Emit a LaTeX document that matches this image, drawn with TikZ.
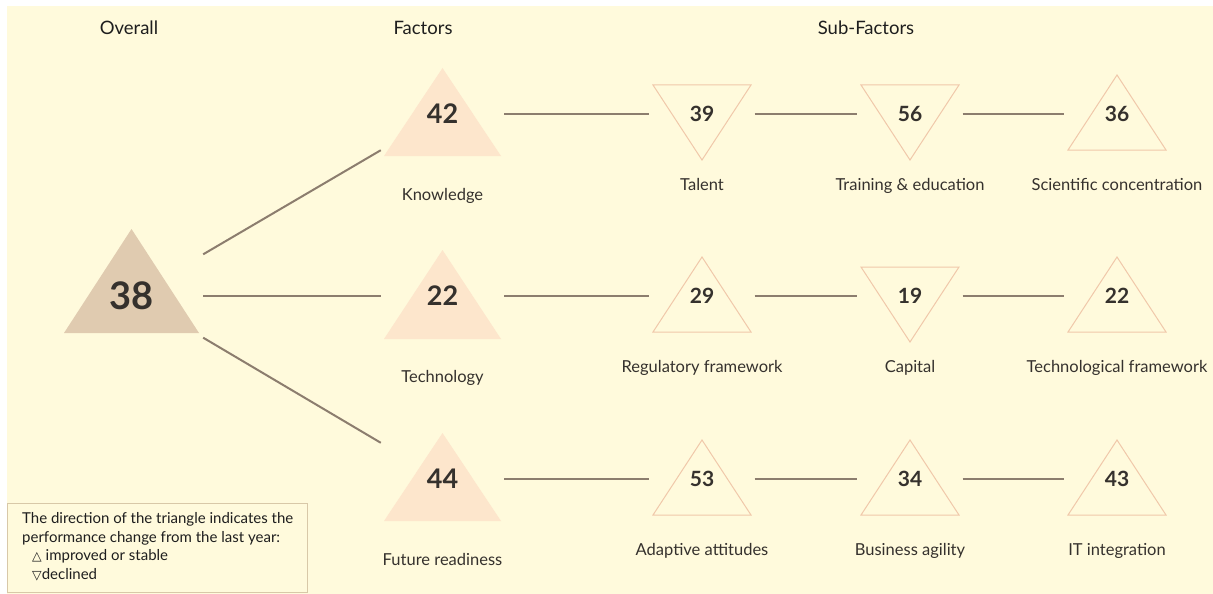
\documentclass[tikz,border=0pt]{standalone}
\usepackage{fontspec}
\setmainfont{Lato}
\newfontfamily\symfont{DejaVu Sans}
\usetikzlibrary{calc}

\definecolor{bgcream}{HTML}{FFFADC}
\definecolor{overallfill}{HTML}{E0CBB0}
\definecolor{factorfill}{HTML}{FDE6CC}
\definecolor{subedge}{HTML}{F0C8AA}
\definecolor{linkbrown}{HTML}{8C7D6E}
\definecolor{textdark}{HTML}{35312D}
\definecolor{headdark}{HTML}{1E1E1E}
\definecolor{legendborder}{HTML}{D8C8A8}

\pgfdeclarelayer{bg}
\pgfsetlayers{bg,main}

% upward triangle around a score node: node, half width, apex offset, base offset, style
\newcommand\trianup[5]{%
  \path[#5] ($(#1)+(-#2,#4)$) -- ($(#1)+(#2,#4)$) -- ($(#1)+(0,#3)$) -- cycle;}
% downward triangle: node, half width, top offset, apex offset, style
\newcommand\triandown[5]{%
  \path[#5] ($(#1)+(-#2,#3)$) -- ($(#1)+(#2,#3)$) -- ($(#1)+(0,#4)$) -- cycle;}

\begin{document}
\begin{tikzpicture}[x=1pt,y=-1pt,
  conn/.style={draw=linkbrown, line width=2pt},
  head/.style={anchor=base, inner sep=0pt, text=headdark, font=\fontsize{18.5}{18.5}\selectfont},
  lbl/.style={anchor=base, inner sep=0pt, text=textdark, font=\fontsize{16.5}{16.5}\selectfont},
  overallbox/.style={inner sep=0pt, minimum width=143pt, minimum height=83pt,
    text=textdark, font=\bfseries\fontsize{38}{38}\selectfont},
  factorbox/.style={inner sep=0pt, minimum width=123pt, minimum height=72pt,
    text=textdark, font=\bfseries\fontsize{27}{27}\selectfont},
  subbox/.style={inner sep=0pt, minimum width=105pt, minimum height=20pt,
    text=textdark, font=\bfseries\fontsize{21}{21}\selectfont},
  overallshape/.style={fill=overallfill},
  factorshape/.style={fill=factorfill},
  subshape/.style={draw=subedge, line width=1pt, line join=miter},
]
\useasboundingbox (0,0) rectangle (1213,594);

% column headings
\node[head] (hoverall) at (129,35) {Overall};
\node[head] (hfactors) at (423,35) {Factors};
\node[head] (hsub) at (866,35) {Sub-Factors};

% overall score
\node[overallbox] (o) at (131.5,296) {38};

% factor scores
\node[factorbox] (k) at (442.5,114) {42};
\node[factorbox] (t) at (442.5,296) {22};
\node[factorbox] (f) at (442.5,479) {44};
\node[lbl] (lk) at ($(k)+(0,86)$) {Knowledge};
\node[lbl] (lt) at ($(t)+(0,86)$) {Technology};
\node[lbl] (lf) at ($(f)+(0,86)$) {Future readiness};

% sub-factor scores
\node[subbox] (k1) at (702,114) {39};
\node[subbox] (k2) at (910,114) {56};
\node[subbox] (k3) at (1117,114) {36};
\node[subbox] (t1) at (702,296) {29};
\node[subbox] (t2) at (910,296) {19};
\node[subbox] (t3) at (1117,296) {22};
\node[subbox] (f1) at (702,479) {53};
\node[subbox] (f2) at (910,479) {34};
\node[subbox] (f3) at (1117,479) {43};

\node[lbl] (lk1) at ($(k1)+(0,76)$) {Talent};
\node[lbl] (lk2) at ($(k2)+(0,76)$) {Training \& education};
\node[lbl] (lk3) at ($(k3)+(0,76)$) {Scientific concentration};
\node[lbl] (lt1) at ($(t1)+(0,76)$) {Regulatory framework};
\node[lbl] (lt2) at ($(t2)+(0,76)$) {Capital};
\node[lbl] (lt3) at ($(t3)+(0,76)$) {Technological framework};
\node[lbl] (lf1) at ($(f1)+(0,76)$) {Adaptive attitudes};
\node[lbl] (lf2) at ($(f2)+(0,76)$) {Business agility};
\node[lbl] (lf3) at ($(f3)+(0,76)$) {IT integration};

% triangles behind the scores
\begin{pgfonlayer}{bg}
  \fill[bgcream] (7,6) rectangle (1213,594);
  \trianup{o}{67.5}{-67}{37}{overallshape}
  \trianup{k}{58.5}{-46}{42}{factorshape}
  \trianup{t}{58.5}{-46}{43}{factorshape}
  \trianup{f}{58.5}{-46}{42}{factorshape}
  \triandown{k1}{49}{-29}{46}{subshape}
  \triandown{k2}{49}{-29}{46}{subshape}
  \trianup{k3}{49}{-39}{36}{subshape}
  \trianup{t1}{49}{-39}{36}{subshape}
  \triandown{t2}{49}{-29}{46}{subshape}
  \trianup{t3}{49}{-39}{36}{subshape}
  \trianup{f1}{49}{-39}{36}{subshape}
  \trianup{f2}{49}{-39}{36}{subshape}
  \trianup{f3}{49}{-39}{36}{subshape}
\end{pgfonlayer}

% connectors
\draw[conn] (o.north east) -- (k.south west);
\draw[conn] (o.east) -- (t.west);
\draw[conn] (o.south east) -- (f.north west);
\draw[conn] (k.east) -- (k1.west);
\draw[conn] (k1.east) -- (k2.west);
\draw[conn] (k2.east) -- (k3.west);
\draw[conn] (t.east) -- (t1.west);
\draw[conn] (t1.east) -- (t2.west);
\draw[conn] (t2.east) -- (t3.west);
\draw[conn] (f.east) -- (f1.west);
\draw[conn] (f1.east) -- (f2.west);
\draw[conn] (f2.east) -- (f3.west);

% legend
\node[draw=legendborder, line width=1pt, fill=bgcream, anchor=north west, inner sep=0pt,
  minimum width=300pt, minimum height=89pt] (legbox) at (7,503) {};
\node[anchor=north west, align=left, inner sep=0pt, text=headdark,
  font=\fontsize{15}{18.8}\selectfont] (legtext) at ($(legbox.north west)+(15,9)$)
  {The direction of the triangle indicates the\\
   performance change from the last year:\\
   \hspace*{10pt}{\symfont\fontsize{12.5}{12.5}\selectfont △} improved or stable\\
   \hspace*{10pt}{\symfont\fontsize{12.5}{12.5}\selectfont ▽}declined};
\end{tikzpicture}
\end{document}
